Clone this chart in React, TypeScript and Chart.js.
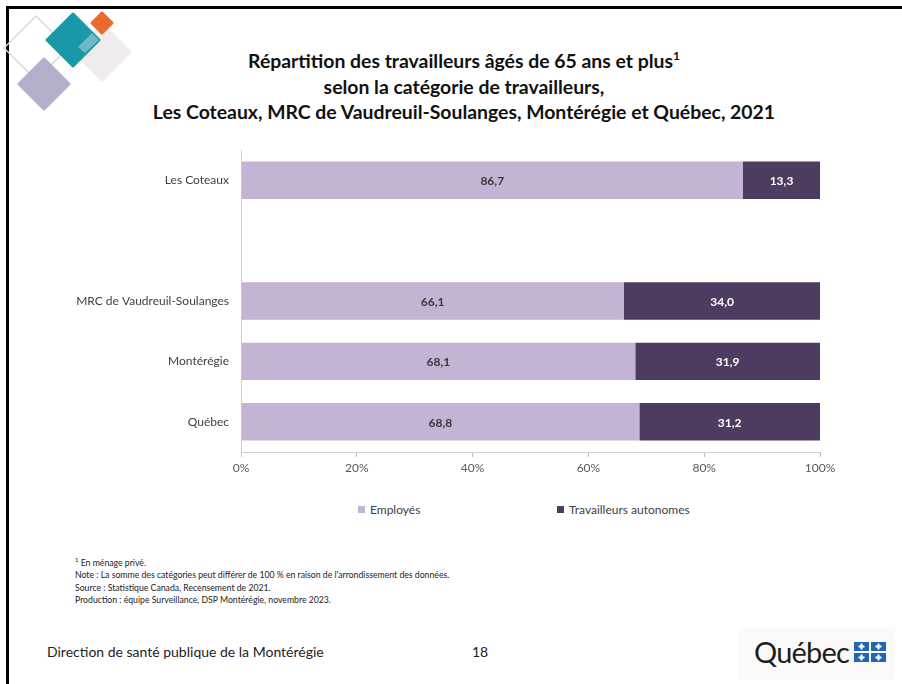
import React, { useEffect, useRef } from "react";
import { Chart, registerables } from "chart.js";

Chart.register(...registerables);

const categories = ["Les Coteaux", "", "MRC de Vaudreuil-Soulanges", "Montérégie", "Québec"];
const employes = [86.7, null, 66.1, 68.1, 68.8];
const autonomes = [13.3, null, 34.0, 31.9, 31.2];
const seriesNames = ["Employés", "Travailleurs autonomes"];
const xTicks = [0, 20, 40, 60, 80, 100];

const LIGHT = "#C2B4D2";
const DARK = "#4D3B60";
const FONT = "Lato, 'Open Sans', sans-serif";

const fmt = (v: number) => v.toFixed(1).replace(".", ",");

const labelPlugin = {
  id: "barLabels",
  afterDatasetsDraw(chart: any) {
    const ctx = chart.ctx;
    ctx.save();
    ctx.font = `bold 12px ${FONT}`;
    ctx.textAlign = "center";
    ctx.textBaseline = "middle";
    chart.data.datasets.forEach((ds: any, i: number) => {
      const meta = chart.getDatasetMeta(i);
      meta.data.forEach((el: any, j: number) => {
        const v = ds.data[j];
        if (v == null) return;
        ctx.fillStyle = i === 0 ? "#3a3a3a" : "#ffffff";
        ctx.fillText(fmt(v), (el.x + el.base) / 2, el.y + 1);
      });
    });
    ctx.restore();
  },
};

function ChartBox() {
  const ref = useRef<HTMLCanvasElement>(null);
  useEffect(() => {
    if (!ref.current) return;
    const chart = new Chart(ref.current, {
      type: "bar",
      data: {
        labels: categories,
        datasets: [
          { label: seriesNames[0], data: employes as any, backgroundColor: LIGHT, barPercentage: 0.62, categoryPercentage: 1 },
          { label: seriesNames[1], data: autonomes as any, backgroundColor: DARK, barPercentage: 0.62, categoryPercentage: 1 },
        ],
      },
      options: {
        indexAxis: "y",
        responsive: false,
        animation: false,
        layout: { padding: { left: 0, right: 40, top: 10, bottom: 3 } },
        plugins: { legend: { display: false }, tooltip: { enabled: false } },
        scales: {
          x: {
            stacked: true,
            min: 0,
            max: 100,
            afterFit: (s: any) => { s.height = 30; },
            afterBuildTicks: (s: any) => { s.ticks = xTicks.map((v) => ({ value: v })); },
            ticks: {
              color: "#595959",
              font: { family: FONT, size: 12 },
              padding: 4,
              callback: (v: any) => v + "%",
              maxRotation: 0,
            },
            grid: { drawOnChartArea: false, drawTicks: true, tickLength: 5, color: "#BFBFBF" },
            border: { display: true, color: "#D0D0D0" },
          },
          y: {
            stacked: true,
            afterFit: (s: any) => { s.width = 241; s.paddingTop = 0; s.paddingBottom = 0; },
            ticks: { color: "#404040", font: { family: FONT, size: 12 }, padding: 12 },
            grid: { display: false, drawTicks: false },
            border: { display: true, color: "#D0D0D0" },
          },
        },
      },
      plugins: [labelPlugin],
    });
    return () => chart.destroy();
  }, []);
  return (
    <canvas ref={ref} width={860} height={345} style={{ position: "absolute", left: 0, top: 140, width: 860, height: 345 }} />
  );
}

function Logo() {
  const d = (cx: number, cy: number, h: number, fill: string, stroke?: string, op = 1) => {
    const pts = `${cx},${cy - h} ${cx + h},${cy} ${cx},${cy + h} ${cx - h},${cy}`;
    return (
      <polygon points={pts} fill={fill} stroke={stroke || fill} strokeWidth={stroke ? 1.5 : 3} strokeLinejoin="round" opacity={op} />
    );
  };
  return (
    <svg width={140} height={115} style={{ position: "absolute", left: 0, top: 0 }}>
      {d(36, 48, 32, "none", "#D5DDD3")}
      {d(102, 52, 28, "#EFECEB")}
      {d(44, 84, 25, "#B5AECB")}
      {d(73, 40, 26, "#1A98A8")}
      {d(102, 23, 10, "#E86A2C")}
      <polygon points="85,53 99,40 92,33 78,47" fill="#7FC3CC" opacity={0.8} />
    </svg>
  );
}

export default function App() {
  const legendItem = (color: string, text: string, left: number) => (
    <div style={{ position: "absolute", left, top: 502, display: "flex", alignItems: "center", fontFamily: FONT, fontSize: 12, color: "#404040" }}>
      <span style={{ display: "inline-block", width: 7, height: 7, background: color, marginRight: 5 }} />
      {text}
    </div>
  );
  return (
    <div style={{ position: "fixed", left: 0, top: 0, width: 902, height: 684, background: "#fff", overflow: "hidden" }}>
      <div style={{ position: "absolute", left: 6, top: 6, width: 896, height: 678, borderTop: "3px solid #000", borderLeft: "3px solid #000" }} />
      <Logo />
      <div style={{ position: "absolute", left: 14, width: 900, top: 48, textAlign: "center", fontFamily: FONT, fontWeight: 700, fontSize: 19.4, lineHeight: "25.5px", color: "#111" }}>
        Répartition des travailleurs âgés de 65 ans et plus<sup style={{ fontSize: 12, verticalAlign: "8px", lineHeight: 0 }}>1</sup>
        <br />selon la catégorie de travailleurs,
        <br />Les Coteaux, MRC de Vaudreuil-Soulanges, Montérégie et Québec, 2021
      </div>
      <ChartBox />
      {legendItem(LIGHT, seriesNames[0], 358)}
      {legendItem(DARK, seriesNames[1], 557)}
      <div style={{ position: "absolute", left: 75, top: 557, fontFamily: FONT, fontSize: 8.7, lineHeight: "12.3px", color: "#222" }}>
        <div><sup style={{ fontSize: 6, lineHeight: 0 }}>1</sup> En ménage privé.</div>
        <div>Note : La somme des catégories peut différer de 100 % en raison de l'arrondissement des données.</div>
        <div>Source : Statistique Canada, Recensement de 2021.</div>
        <div>Production : équipe Surveillance, DSP Montérégie, novembre 2023.</div>
      </div>
      <div style={{ position: "absolute", left: 47, top: 643, fontFamily: FONT, fontSize: 14, color: "#222" }}>
        Direction de santé publique de la Montérégie
      </div>
      <div style={{ position: "absolute", left: 472, top: 643, fontFamily: FONT, fontSize: 14, color: "#222" }}>18</div>
      <div style={{ position: "absolute", left: 738, top: 628, width: 157, height: 52, background: "#FBFAF9" }} />
      <div style={{ position: "absolute", left: 754, top: 634, fontFamily: "Lato, sans-serif", fontSize: 29, color: "#1d1d1d", letterSpacing: -0.8 }}>
        Québec
      </div>
      <svg width={34} height={22} style={{ position: "absolute", left: 854, top: 642 }}>
        {[[0, 0], [17, 0], [0, 11], [17, 11]].map(([x, y], i) => (
          <g key={i}>
            <rect x={x} y={y} width={15} height={9} fill="#2265B2" />
            <rect x={x + 6.5} y={y + 1.5} width={2} height={6} fill="#fff" />
            <rect x={x + 4.5} y={y + 3.5} width={6} height={2} fill="#fff" />
          </g>
        ))}
      </svg>
    </div>
  );
}
